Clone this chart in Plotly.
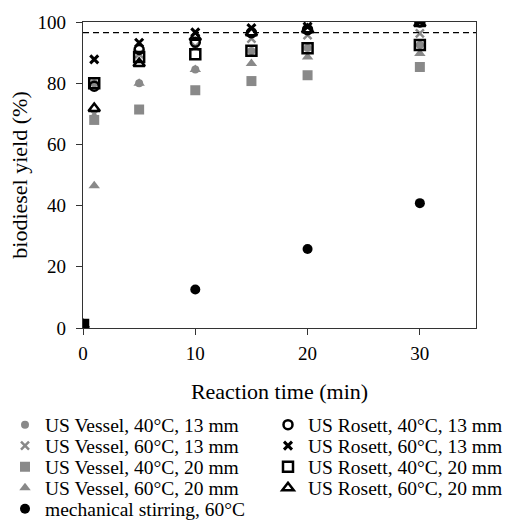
import plotly.graph_objects as go

time_min = [0, 1, 5, 10, 15, 20, 30]

vessel_40_13 = [1, 80, 80, 84.5, 90.5, 91.5, 92.5]
vessel_60_13 = [1, 70, 89.5, 92, 94.6, 95.7, 96.3]
vessel_40_20 = [1, 68, 71.4, 77.7, 80.7, 82.6, 85.3]
vessel_60_20 = [1, 46.5, 80, 84.5, 86.4, 88.6, 89.7]

rosett_40_13 = [1, 79, 91, 93.4, 96.5, 97.5, 100]
rosett_60_13 = [1, 87.8, 93.2, 96.6, 98, 98.5, 100]
rosett_40_20 = [1, 80, 88.6, 89.5, 90.6, 91.4, 92.5]
rosett_60_20 = [1, 71.7, 86.4, 95, 96.5, 97.5, 99.5]

mech_time = [0, 10, 20, 30]
mech_stirring = [1, 12.6, 25.8, 40.8]

target_yield = 96.5

GRAY = "#898989"
BLACK = "#000000"
FONT = "Liberation Serif, Times New Roman, serif"
W, H = 513, 527
ML, MR, MT, MB = 83, 37, 22, 199
PW, PH = W - ML - MR, H - MT - MB

fig = go.Figure()

legend_specs = []

def add(x, y, name, symbol, color, size, col_px, row_px, line_w=0):
    key = "legend" if not legend_specs else f"legend{len(legend_specs) + 1}"
    legend_specs.append((key, col_px, row_px))
    fig.add_trace(go.Scatter(
        x=x, y=y, mode="markers", name=name, legend=key,
        marker=dict(symbol=symbol, color=color, size=size,
                    line=dict(color=color, width=line_w)),
    ))

LCOL, RCOL = 5, 268
ROWS = [425, 446, 467, 488, 509]

add(time_min, vessel_40_13, "US Vessel, 40°C, 13 mm", "circle", GRAY, 8, LCOL, ROWS[0])
add(time_min, vessel_60_13, "US Vessel, 60°C, 13 mm", "x-thin-open", GRAY, 8, LCOL, ROWS[1], 2.5)
add(time_min, vessel_40_20, "US Vessel, 40°C, 20 mm", "square", GRAY, 10, LCOL, ROWS[2])
add(time_min, vessel_60_20, "US Vessel, 60°C, 20 mm", "triangle-up", GRAY, 10, LCOL, ROWS[3])
add(time_min, rosett_40_13, "US Rosett, 40°C, 13 mm", "circle-open", BLACK, 9, RCOL, ROWS[0], 2.5)
add(time_min, rosett_60_13, "US Rosett, 60°C, 13 mm", "x-thin-open", BLACK, 8, RCOL, ROWS[1], 3)
add(time_min, rosett_40_20, "US Rosett, 40°C, 20 mm", "square-open", BLACK, 10, RCOL, ROWS[2], 2.5)
add(time_min, rosett_60_20, "US Rosett, 60°C, 20 mm", "triangle-up-open", BLACK, 10, RCOL, ROWS[3], 2.5)
add(mech_time, mech_stirring, "mechanical stirring, 60°C", "circle", BLACK, 10, LCOL, ROWS[4])

fig.add_hline(y=target_yield, line=dict(color=BLACK, width=1.3, dash="6px,4px"))

axis_common = dict(
    showline=True, linecolor="#333333", linewidth=1.3, mirror=True,
    showgrid=False, zeroline=False, ticks="outside", ticklen=6,
    tickcolor="#333333", tickfont=dict(family=FONT, size=19, color=BLACK),
)

legends = {}
for key, col_px, row_px in legend_specs:
    legends[key] = dict(
        x=(col_px - ML) / PW, xanchor="left",
        y=(H - MB - row_px) / PH, yanchor="middle",
        font=dict(family=FONT, size=19.5, color=BLACK), itemwidth=30,
        bgcolor="rgba(0,0,0,0)",
    )

fig.update_layout(
    width=W, height=H,
    margin=dict(l=ML, r=MR, t=MT, b=MB, autoexpand=False),
    paper_bgcolor="white", plot_bgcolor="white",
    font=dict(family=FONT, color=BLACK),
    xaxis=dict(range=[0, 35], tickvals=[0, 10, 20, 30], ticklabelstandoff=2,
               title=dict(text="Reaction time (min)", font=dict(family=FONT, size=22), standoff=20),
               **axis_common),
    yaxis=dict(range=[0, 100], tickvals=[0, 20, 40, 60, 80, 100], ticklabelstandoff=6,
               title=dict(text="biodiesel yield (%)", font=dict(family=FONT, size=22), standoff=3),
               **axis_common),
    showlegend=True,
    **legends,
)

fig.write_html("out.html", config={"displayModeBar": False},
               post_script="document.body.style.margin='0';")
